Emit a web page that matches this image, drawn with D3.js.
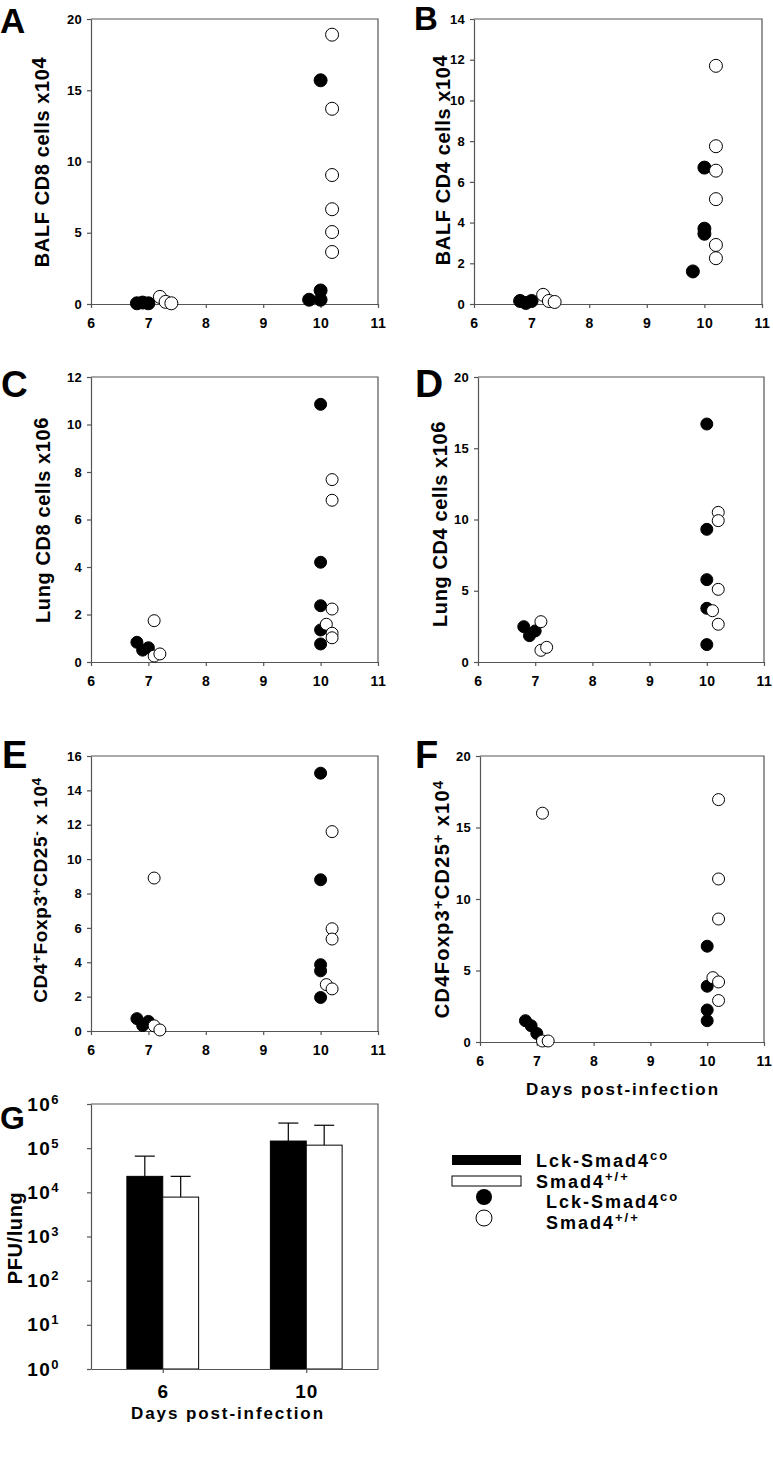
<!DOCTYPE html>
<html><head><meta charset="utf-8">
<script src="https://cdn.jsdelivr.net/npm/d3@7"></script>
<style>
body{margin:0;background:#fff;}
svg{display:block;}
text{font-family:"Liberation Sans",Arial,sans-serif;font-weight:bold;fill:#000;}
</style>
</head><body>
<svg id="chart" width="773" height="1465"></svg>
<script>
// ---------- data ----------
const xTickValues = [6, 7, 8, 9, 10, 11];

const A_lck = [[6.8,0.05],[6.9,0.1],[7.0,0.05],[9.8,0.3],[10,0.3],[10,0.95],[10,15.7]];
const A_wt  = [[7.2,0.5],[7.3,0.15],[7.4,0.05],[10.2,18.9],[10.2,13.7],[10.2,9.05],[10.2,6.65],[10.2,5.05],[10.2,3.65]];

const B_lck = [[6.8,0.15],[6.9,0.05],[7.0,0.15],[9.8,1.6],[10,6.7],[10,3.7],[10,3.45]];
const B_wt  = [[7.2,0.45],[7.3,0.15],[7.4,0.1],[10.2,11.7],[10.2,7.75],[10.2,6.55],[10.2,5.15],[10.2,2.9],[10.2,2.25]];

const C_lck = [[6.8,0.83],[6.9,0.5],[7.0,0.6],[10,10.85],[10,4.2],[10,2.37],[10,1.35],[10,0.76]];
const C_wt  = [[7.1,1.74],[7.1,0.25],[7.2,0.34],[10.2,7.68],[10.2,6.81],[10.2,2.23],[10.1,1.59],[10.2,1.21],[10.2,1.02]];

const D_lck = [[6.8,2.48],[6.9,1.85],[7.0,2.18],[10,16.7],[10,9.31],[10,5.78],[10,3.77],[10,1.22]];
const D_wt  = [[7.1,2.83],[7.1,0.82],[7.2,1.03],[10.2,10.5],[10.2,9.92],[10.2,5.1],[10.1,3.6],[10.2,2.65]];

const E_lck = [[6.8,0.72],[6.9,0.32],[7.0,0.56],[10,15.0],[10,8.8],[10,3.86],[10,3.5],[10,1.95]];
const E_wt  = [[7.1,8.9],[7.1,0.3],[7.2,0.06],[10.2,11.6],[10.2,5.95],[10.2,5.35],[10.1,2.7],[10.2,2.45]];

const F_lck = [[6.8,1.49],[6.9,1.14],[7.0,0.6],[10,6.7],[10,3.9],[10,2.24],[10,1.49]];
const F_wt  = [[7.1,0.07],[7.2,0.07],[7.1,16.0],[10.2,16.95],[10.2,11.4],[10.2,8.6],[10.1,4.5],[10.2,4.2],[10.2,2.9]];

const G_days   = ["6", "10"];
const G_lck    = [2.3e4, 1.45e5];
const G_lckErr = [6.6e4, 3.7e5];
const G_wt     = [7.8e3, 1.17e5];
const G_wtErr  = [2.3e4, 3.3e5];
const G_yTicks = [1, 10, 100, 1e3, 1e4, 1e5, 1e6];

const legendLabels = [
  [["Lck-Smad4",0],["co",1]],
  [["Smad4",0],["+/+",1]],
  [["Lck-Smad4",0],["co",1]],
  [["Smad4",0],["+/+",1]]
];

// ---------- layout ----------
const AX = "#555";
const panels = [
  {lck:A_lck, wt:A_wt, yMax:20, yStep:5, L:91, R:378, T:19, B:304, r:6.5,
   letter:{t:"A", x:0, y:33, s:35}, title:{x:49, y:162, s:20, ls:0.6, parts:[["BALF CD8 cells x10",0],["4",3]]}},
  {lck:B_lck, wt:B_wt, yMax:14, yStep:2, L:474, R:762, T:19, B:304, r:6.5,
   letter:{t:"B", x:414, y:30, s:33}, title:{x:450, y:160, s:20, ls:0.6, parts:[["BALF CD4 cells x10",0],["4",3]]}},
  {lck:C_lck, wt:C_wt, yMax:12, yStep:2, L:91, R:378, T:377, B:662, r:6,
   letter:{t:"C", x:1, y:397, s:37}, title:{x:50, y:520, s:20, ls:0.6, parts:[["Lung CD8 cells x10",0],["6",2]]}},
  {lck:D_lck, wt:D_wt, yMax:20, yStep:5, L:478, R:764, T:377, B:662, r:6,
   letter:{t:"D", x:415, y:397, s:39}, title:{x:447, y:524, s:20, ls:0.6, parts:[["Lung CD4 cells x10",0],["6",2]]}},
  {lck:E_lck, wt:E_wt, yMax:16, yStep:2, L:91, R:378, T:756, B:1031, r:6,
   letter:{t:"E", x:2, y:768, s:38}, title:{x:47, y:890, s:19, ls:0.6, parts:[["CD4",0],["+",6],["Foxp3",0],["+",6],["CD25",0],["-",6],[" x 10",0],["4",6]]}},
  {lck:F_lck, wt:F_wt, yMax:20, yStep:5, L:480, R:764, T:756, B:1042, r:6,
   letter:{t:"F", x:415, y:768, s:38}, title:{x:449, y:899, s:20, ls:1.3, parts:[["CD4Foxp3",0],["+",6],["CD25",0],["+",6],[" x10",0],["4",6]]}}
];
const G = {L:91, R:378, T:1104, B:1369};

const svg = d3.select("#chart");

function addParts(sel, parts, size){
  let off = 0;
  parts.forEach(([t, raise]) => {
    const target = -raise;
    const ts = sel.append("tspan").text(t).attr("dy", target - off);
    if (raise >= 5) ts.attr("font-size", size * 0.72);
    off = target;
  });
}

function styleAxis(g, fs, ls){
  g.attr("font-family", null).attr("font-size", null);
  g.select(".domain").attr("stroke", AX).attr("stroke-width", 1.2);
  g.selectAll(".tick line").attr("stroke", AX).attr("stroke-width", 1.2);
  g.selectAll(".tick text").attr("font-size", fs).attr("fill", "#000")
   .style("letter-spacing", ls + "px");
}

// ---------- scatter panels ----------
panels.forEach(p => {
  const x = d3.scaleLinear().domain([6, 11]).range([p.L, p.R]);
  const y = d3.scaleLinear().domain([0, p.yMax]).range([p.B, p.T]);
  const g = svg.append("g");

  g.append("path").attr("d", `M${p.L},${p.T}H${p.R}V${p.B}`)
   .attr("fill", "none").attr("stroke", AX).attr("stroke-width", 1.2);

  const xa = g.append("g").attr("transform", `translate(0,${p.B})`)
    .call(d3.axisBottom(x).tickValues(xTickValues).tickSize(4).tickSizeOuter(0)
      .tickPadding(10).tickFormat(d3.format("d")));
  styleAxis(xa, 14, 0.6);

  const ya = g.append("g").attr("transform", `translate(${p.L},0)`)
    .call(d3.axisLeft(y).tickValues(d3.range(0, p.yMax + 0.001, p.yStep))
      .tickSize(4).tickSizeOuter(0).tickPadding(5).tickFormat(d3.format("d")));
  styleAxis(ya, 13, 0.3);

  g.selectAll("circle.lck").data(p.lck).join("circle").attr("class", "lck")
    .attr("cx", d => x(d[0])).attr("cy", d => y(d[1])).attr("r", p.r)
    .attr("fill", "#000").attr("stroke", "#000");
  g.selectAll("circle.wt").data(p.wt).join("circle").attr("class", "wt")
    .attr("cx", d => x(d[0])).attr("cy", d => y(d[1])).attr("r", p.r)
    .attr("fill", "#fff").attr("stroke", "#000").attr("stroke-width", 1);

  svg.append("text").attr("x", p.letter.x).attr("y", p.letter.y)
    .attr("font-size", p.letter.s).text(p.letter.t);

  const tt = svg.append("text")
    .attr("transform", `translate(${p.title.x},${p.title.y}) rotate(-90)`)
    .attr("text-anchor", "middle").attr("font-size", p.title.s)
    .style("letter-spacing", p.title.ls + "px");
  addParts(tt, p.title.parts, p.title.s);
});

// x title under F
svg.append("text").attr("x", 623).attr("y", 1095).attr("text-anchor", "middle")
  .attr("font-size", 17).style("letter-spacing", "1.9px").text("Days post-infection");

// ---------- panel G ----------
{
  const x = d3.scalePoint().domain(G_days).range([G.L, G.R]).padding(0.5);
  const y = d3.scaleLog().domain([1, 1e6]).range([G.B, G.T]);
  const bw = x.step() * 0.25;
  const g = svg.append("g");

  g.append("path").attr("d", `M${G.L},${G.T}H${G.R}V${G.B}`)
   .attr("fill", "none").attr("stroke", AX).attr("stroke-width", 1.2);

  const series = [
    {vals: G_lck, errs: G_lckErr, fill: "#000", off: -1},
    {vals: G_wt,  errs: G_wtErr,  fill: "#fff", off: 0}
  ];
  series.forEach(s => {
    G_days.forEach((d, i) => {
      const x0 = x(d) + s.off * bw;
      const cx = x0 + bw / 2;
      g.append("line").attr("x1", cx).attr("x2", cx)
        .attr("y1", y(s.vals[i])).attr("y2", y(s.errs[i]))
        .attr("stroke", "#000").attr("stroke-width", 1.2);
      g.append("line").attr("x1", cx - 10).attr("x2", cx + 10)
        .attr("y1", y(s.errs[i])).attr("y2", y(s.errs[i]))
        .attr("stroke", "#000").attr("stroke-width", 1.2);
      g.append("rect").attr("x", x0).attr("width", bw)
        .attr("y", y(s.vals[i])).attr("height", y(1) - y(s.vals[i]))
        .attr("fill", s.fill).attr("stroke", "#000").attr("stroke-width", 1);
    });
  });

  const xa = g.append("g").attr("transform", `translate(0,${G.B})`)
    .call(d3.axisBottom(x).tickSize(4).tickSizeOuter(0).tickPadding(12));
  styleAxis(xa, 19, 1);

  const ya = g.append("g").attr("transform", `translate(${G.L},0)`)
    .call(d3.axisLeft(y).tickValues(G_yTicks).tickSize(4).tickSizeOuter(0).tickPadding(27).tickFormat(() => ""));
  styleAxis(ya, 19, 1.5);
  ya.selectAll(".tick text").each(function(d){
    const t = d3.select(this);
    t.text(null);
    t.append("tspan").text("10");
    t.append("tspan").text(String(Math.round(Math.log10(d)))).attr("font-size", 13).attr("dy", -7);
  });

  svg.append("text").attr("x", 0).attr("y", 1129).attr("font-size", 32).text("G");

  svg.append("text").attr("transform", "translate(22,1238) rotate(-90)")
    .attr("text-anchor", "middle").attr("font-size", 20).style("letter-spacing", "0.6px")
    .text("PFU/lung");

  svg.append("text").attr("x", 228).attr("y", 1419).attr("text-anchor", "middle")
    .attr("font-size", 17).style("letter-spacing", "1.9px").text("Days post-infection");
}

// ---------- legend ----------
{
  const lg = svg.append("g");
  const rowsY = [1160, 1181, 1201, 1222];
  lg.append("rect").attr("x", 452).attr("y", rowsY[0] - 5).attr("width", 69).attr("height", 10)
    .attr("fill", "#000");
  lg.append("rect").attr("x", 452).attr("y", rowsY[1] - 5).attr("width", 69).attr("height", 10)
    .attr("fill", "#fff").attr("stroke", "#000");
  lg.append("circle").attr("cx", 484).attr("cy", rowsY[2] - 4).attr("r", 8).attr("fill", "#000");
  lg.append("circle").attr("cx", 484).attr("cy", rowsY[3] - 4).attr("r", 8)
    .attr("fill", "#fff").attr("stroke", "#000");
  const textX = [536, 536, 546, 546];
  legendLabels.forEach((parts, i) => {
    const t = lg.append("text").attr("x", textX[i]).attr("y", rowsY[i] + 7)
      .attr("font-size", 18).style("letter-spacing", "2px");
    t.append("tspan").text(parts[0][0]);
    t.append("tspan").text(parts[1][0]).attr("font-size", 13).attr("dy", -7);
  });
}
</script>
</body></html>
